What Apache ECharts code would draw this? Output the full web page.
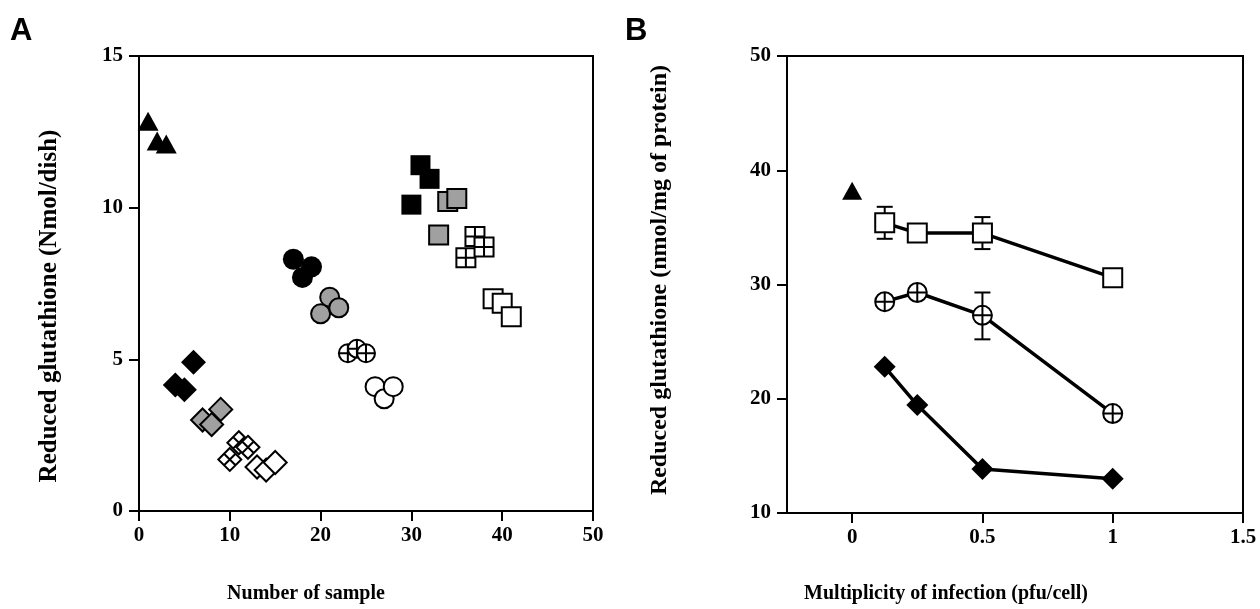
<!DOCTYPE html>
<html>
<head>
<meta charset="utf-8">
<script src="https://cdn.jsdelivr.net/npm/echarts@6/dist/echarts.min.js"></script>
<style>
  html, body { margin: 0; padding: 0; background: #fff; }
  #chart { width: 1260px; height: 609px; }
</style>
</head>
<body>
<div id="chart"></div>
<script>
// Panel A - reduced glutathione per dish, by sample number
const triangleA = [[1, 12.85], [2, 12.2], [3, 12.1]];
const blackDiamondA = [[4, 4.15], [5, 4.0], [6, 4.9]];
const grayDiamondA = [[7, 3.0], [8, 2.85], [9, 3.35]];
const crossDiamondA = [[10, 1.7], [11, 2.25], [12, 2.1]];
const whiteDiamondA = [[13, 1.45], [14, 1.35], [15, 1.6]];
const blackCircleA = [[17, 8.3], [18, 7.7], [19, 8.05]];
const grayCircleA = [[20, 6.5], [21, 7.05], [22, 6.7]];
const crossCircleA = [[23, 5.2], [24, 5.35], [25, 5.2]];
const whiteCircleA = [[26, 4.1], [27, 3.7], [28, 4.1]];
const blackSquareA = [[30, 10.1], [31, 11.4], [32, 10.95]];
const graySquareA = [[33, 9.1], [34, 10.2], [35, 10.3]];
const gridSquareA = [[36, 8.35], [37, 9.05], [38, 8.7]];
const whiteSquareA = [[39, 7.0], [40, 6.85], [41, 6.4]];

// Panel B - glutathione vs multiplicity of infection
const moi = [0.125, 0.25, 0.5, 1];
const controlB = [[0, 38.2]];
const squareB = [35.4, 34.5, 34.5, 30.6];
const crossCircleB = [28.5, 29.3, 27.3, 18.7];
const diamondB = [22.8, 19.45, 13.85, 13.0];
// error bars: [x, low, high]
const errorBarsB = [
    [0.125, 34.0, 36.8],
    [0.5, 33.1, 35.9],
    [0.5, 25.2, 29.3]
];

const xTicksB = [0, 0.5, 1, 1.5];

const SERIF = '"Liberation Serif", "DejaVu Serif", serif';
const GRAY = '#a0a0a0';

const CROSS_DIAMOND = 'path://M10,0 L20,10 L10,20 L0,10 Z M5,5 L15,15 M15,5 L5,15';
const CROSS_CIRCLE = 'path://M0,10 A10,10 0 1 0 20,10 A10,10 0 1 0 0,10 Z M10,0 L10,20 M0,10 L20,10';
const GRID_SQUARE = 'path://M0,0 L20,0 L20,20 L0,20 Z M10,0 L10,20 M0,10 L20,10';

function scatterA(data, symbol, fill, size) {
    return {
        type: 'scatter',
        xAxisIndex: 0,
        yAxisIndex: 0,
        data: data,
        symbol: symbol,
        symbolSize: size,
        itemStyle: { color: fill, borderColor: '#000', borderWidth: fill === '#000' ? 0 : 2, opacity: 1 },
        z: 3
    };
}

function lineB(ys, symbol, fill, size) {
    return {
        type: 'line',
        xAxisIndex: 1,
        yAxisIndex: 1,
        data: moi.map((x, i) => [x, ys[i]]),
        symbol: symbol,
        symbolSize: size,
        showSymbol: true,
        lineStyle: { color: '#000', width: 3.5 },
        itemStyle: { color: fill, borderColor: '#000', borderWidth: fill === '#000' ? 0 : 2, opacity: 1 },
        z: 3
    };
}

function label(margin, extra) {
    return Object.assign({ color: '#000', fontFamily: SERIF, fontWeight: 'bold', fontSize: 21, margin: margin }, extra);
}

function axis(extra) {
    return Object.assign({
        type: 'value',
        axisLine: { show: true, onZero: false, lineStyle: { color: '#000', width: 2 } },
        axisTick: { show: true, inside: false, length: 10, lineStyle: { color: '#000', width: 2 } },
        splitLine: { show: false }
    }, extra);
}

const chart = echarts.init(document.getElementById('chart'));

const option = {
    backgroundColor: '#fff',
    animation: false,
    grid: [
        { left: 139, top: 56, width: 454, height: 455, show: true, borderColor: '#000', borderWidth: 2, backgroundColor: 'transparent' },
        { left: 787, top: 56, width: 456, height: 457, show: true, borderColor: '#000', borderWidth: 2, backgroundColor: 'transparent' }
    ],
    xAxis: [
        axis({ gridIndex: 0, min: 0, max: 50, interval: 10, axisLabel: label(14) }),
        axis({ gridIndex: 1, min: -0.25, max: 1.5,
            axisTick: { show: true, inside: false, length: 10, lineStyle: { color: '#000', width: 2 }, customValues: xTicksB },
            axisLabel: label(14, { customValues: xTicksB, formatter: v => String(v) }) })
    ],
    yAxis: [
        axis({ gridIndex: 0, min: 0, max: 15, interval: 5, axisLabel: label(16) }),
        axis({ gridIndex: 1, min: 10, max: 50, interval: 10, axisLabel: label(16) })
    ],
    graphic: [
        { type: 'text', left: 10, top: 16, style: { text: 'A', font: 'bold 31px "Liberation Sans", Arial, sans-serif', fill: '#000' } },
        { type: 'text', left: 625, top: 16, style: { text: 'B', font: 'bold 31px "Liberation Sans", Arial, sans-serif', fill: '#000' } },
        { type: 'text', x: 50, y: 306, rotation: Math.PI / 2,
            style: { text: 'Reduced glutathione (Nmol/dish)', font: 'bold 25px ' + SERIF, fill: '#000', align: 'center', verticalAlign: 'middle' } },
        { type: 'text', x: 306, y: 594,
            style: { text: 'Number of sample', font: 'bold 20px ' + SERIF, fill: '#000', align: 'center', verticalAlign: 'middle' } },
        { type: 'text', x: 660, y: 280, rotation: Math.PI / 2,
            style: { text: 'Reduced glutathione (nmol/mg of protein)', font: 'bold 24px ' + SERIF, fill: '#000', align: 'center', verticalAlign: 'middle' } },
        { type: 'text', x: 946, y: 594,
            style: { text: 'Multiplicity of infection (pfu/cell)', font: 'bold 20px ' + SERIF, fill: '#000', align: 'center', verticalAlign: 'middle' } }
    ],
    series: [
        scatterA(triangleA, 'triangle', '#000', [21, 19]),
        scatterA(blackDiamondA, 'diamond', '#000', 25),
        scatterA(grayDiamondA, 'diamond', GRAY, 23),
        scatterA(crossDiamondA, CROSS_DIAMOND, '#fff', 23),
        scatterA(whiteDiamondA, 'diamond', '#fff', 23),
        scatterA(blackCircleA, 'circle', '#000', 21),
        scatterA(grayCircleA, 'circle', GRAY, 19),
        scatterA(crossCircleA, CROSS_CIRCLE, '#fff', 18),
        scatterA(whiteCircleA, 'circle', '#fff', 19),
        scatterA(blackSquareA, 'rect', '#000', 20),
        scatterA(graySquareA, 'rect', GRAY, 19),
        scatterA(gridSquareA, GRID_SQUARE, '#fff', 19),
        scatterA(whiteSquareA, 'rect', '#fff', 19),

        {
            type: 'custom',
            xAxisIndex: 1,
            yAxisIndex: 1,
            data: errorBarsB,
            z: 2,
            renderItem: (params, api) => {
                const top = api.coord([api.value(0), api.value(2)]);
                const bot = api.coord([api.value(0), api.value(1)]);
                const half = 8;
                const style = { stroke: '#000', lineWidth: 2 };
                return {
                    type: 'group',
                    children: [
                        { type: 'line', shape: { x1: top[0], y1: top[1], x2: bot[0], y2: bot[1] }, style },
                        { type: 'line', shape: { x1: top[0] - half, y1: top[1], x2: top[0] + half, y2: top[1] }, style },
                        { type: 'line', shape: { x1: bot[0] - half, y1: bot[1], x2: bot[0] + half, y2: bot[1] }, style }
                    ]
                };
            }
        },
        lineB(squareB, 'rect', '#fff', 19),
        lineB(crossCircleB, CROSS_CIRCLE, '#fff', 19),
        lineB(diamondB, 'diamond', '#000', 22),
        {
            type: 'scatter',
            xAxisIndex: 1,
            yAxisIndex: 1,
            data: controlB,
            symbol: 'triangle',
            symbolSize: [20, 18],
            itemStyle: { color: '#000', opacity: 1 },
            z: 3
        }
    ]
};

chart.setOption(option);
</script>
</body>
</html>
